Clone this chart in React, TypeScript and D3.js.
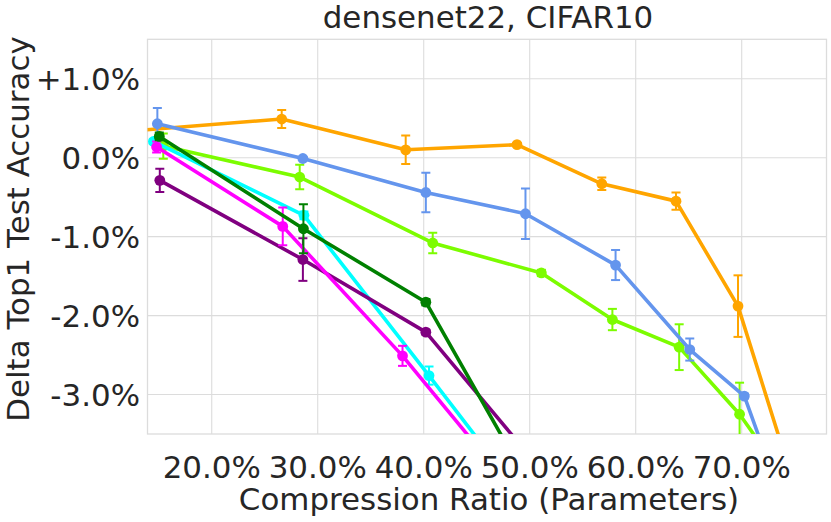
import * as React from 'react';
import * as d3 from 'd3';

// compression ratio (%) per point, delta accuracy (%) and its std
const orangeX = [13.0, 26.6, 38.3, 48.8, 56.8, 63.8, 69.65, 76.0];
const orangeY = [0.345, 0.49, 0.1, 0.165, -0.33, -0.55, -1.88, -4.6];
const orangeErr = [0, 0.114, 0.18, 0.02, 0.08, 0.11, 0.39, 0];

const blueX = [14.87, 28.6, 40.2, 49.6, 58.1, 65.1, 70.25, 75.0];
const blueY = [0.43, -0.01, -0.44, -0.71, -1.36, -2.43, -3.02, -4.79];
const blueErr = [0.2, 0.02, 0.25, 0.32, 0.19, 0.14, 0.03, 0];

const lawnX = [15.43, 28.3, 40.85, 51.1, 57.8, 64.1, 69.8, 75.0];
const lawnY = [0.147, -0.245, -1.08, -1.46, -2.05, -2.4, -3.25, -4.24];
const lawnErr = [0.16, 0.156, 0.13, 0.04, 0.135, 0.29, 0.4, 0];

const greenX = [15.05, 28.65, 40.2, 50.0];
const greenY = [0.27, -0.9, -1.83, -4.15];
const greenErr = [0.05, 0.31, 0.04, 0];

const cyanX = [14.5, 28.7, 40.5, 50.0];
const cyanY = [0.206, -0.73, -2.76, -4.42];
const cyanErr = [0.03, 0.05, 0.115, 0];

const magentaX = [14.8, 26.7, 38.0, 48.0];
const magentaY = [0.135, -0.87, -2.51, -4.14];
const magentaErr = [0.07, 0.24, 0.127, 0];

const purpleX = [15.1, 28.6, 40.2, 50.0];
const purpleY = [-0.287, -1.29, -2.21, -3.78];
const purpleErr = [0.148, 0.27, 0.03, 0];

const xTicks = [20, 30, 40, 50, 60, 70];
const xTickLabels = ['20.0%', '30.0%', '40.0%', '50.0%', '60.0%', '70.0%'];
const yTicks = [1, 0, -1, -2, -3];
const yTickLabels = ['+1.0%', '0.0%', '-1.0%', '-2.0%', '-3.0%'];

// drawing order, bottom to top
const series = [
  { color: '#ffa500', xs: orangeX, ys: orangeY, errs: orangeErr },
  { color: '#7cfc00', xs: lawnX, ys: lawnY, errs: lawnErr },
  { color: '#6495ed', xs: blueX, ys: blueY, errs: blueErr },
  { color: '#00ffff', xs: cyanX, ys: cyanY, errs: cyanErr },
  { color: '#800080', xs: purpleX, ys: purpleY, errs: purpleErr },
  { color: '#ff00ff', xs: magentaX, ys: magentaY, errs: magentaErr },
  { color: '#008000', xs: greenX, ys: greenY, errs: greenErr },
];

const width = 831;
const height = 522;
const plot = { left: 147.5, right: 826.5, top: 39.3, bottom: 434 };
const font = 'DejaVu Sans';
const fontSize = 30.9;
const textColor = '#262626';
const gridColor = '#dcdcdc';

export default function App() {
  const ref = React.useRef<SVGSVGElement>(null);

  React.useEffect(() => {
    const svg = d3.select(ref.current);
    svg.selectAll('*').remove();

    const x = d3.scaleLinear().domain([13.94, 78.0]).range([plot.left, plot.right]);
    const y = d3.scaleLinear().domain([-3.5, 1.5]).range([plot.bottom, plot.top]);

    svg
      .append('defs')
      .append('clipPath')
      .attr('id', 'plot-clip')
      .append('rect')
      .attr('x', plot.left)
      .attr('y', plot.top)
      .attr('width', plot.right - plot.left)
      .attr('height', plot.bottom - plot.top);

    // grid
    const grid = svg.append('g').attr('stroke', gridColor).attr('stroke-width', 1.1);
    grid
      .selectAll('.vgrid')
      .data(xTicks)
      .enter()
      .append('line')
      .attr('x1', d => x(d))
      .attr('x2', d => x(d))
      .attr('y1', plot.top)
      .attr('y2', plot.bottom);
    grid
      .selectAll('.hgrid')
      .data(yTicks)
      .enter()
      .append('line')
      .attr('x1', plot.left)
      .attr('x2', plot.right)
      .attr('y1', d => y(d))
      .attr('y2', d => y(d));
    svg
      .append('rect')
      .attr('x', plot.left)
      .attr('y', plot.top)
      .attr('width', plot.right - plot.left)
      .attr('height', plot.bottom - plot.top)
      .attr('fill', 'none')
      .attr('stroke', gridColor)
      .attr('stroke-width', 1.3);

    // series: line, error bars, markers
    const marks = svg.append('g').attr('clip-path', 'url(#plot-clip)');

    series.forEach(s => {
      const pts = s.xs.map((v, i) => [x(v), y(s.ys[i])] as [number, number]);
      const g = marks.append('g');
      g.append('path')
        .attr('d', d3.line()(pts))
        .attr('fill', 'none')
        .attr('stroke', s.color)
        .attr('stroke-width', 3.6)
        .attr('stroke-linejoin', 'round');

      const eb = g
        .selectAll('.err')
        .data(s.xs.map((v, i) => ({ x: v, y: s.ys[i], e: s.errs[i] })).filter(d => d.e > 0))
        .enter()
        .append('g')
        .attr('stroke', s.color)
        .attr('stroke-width', 2);
      eb.append('line')
        .attr('x1', d => x(d.x))
        .attr('x2', d => x(d.x))
        .attr('y1', d => y(d.y + d.e))
        .attr('y2', d => y(d.y - d.e));
      eb.append('line')
        .attr('x1', d => x(d.x) - 4.5)
        .attr('x2', d => x(d.x) + 4.5)
        .attr('y1', d => y(d.y + d.e))
        .attr('y2', d => y(d.y + d.e));
      eb.append('line')
        .attr('x1', d => x(d.x) - 4.5)
        .attr('x2', d => x(d.x) + 4.5)
        .attr('y1', d => y(d.y - d.e))
        .attr('y2', d => y(d.y - d.e));

      g.selectAll('circle')
        .data(pts)
        .enter()
        .append('circle')
        .attr('cx', d => d[0])
        .attr('cy', d => d[1])
        .attr('r', 5.4)
        .attr('fill', s.color);
    });

    // tick labels and titles
    const text = svg
      .append('g')
      .attr('font-family', font)
      .attr('font-size', fontSize)
      .attr('fill', textColor);
    text
      .selectAll('.xt')
      .data(xTicks)
      .enter()
      .append('text')
      .attr('x', d => x(d))
      .attr('y', 478)
      .attr('text-anchor', 'middle')
      .text((_, i) => xTickLabels[i]);
    text
      .selectAll('.yt')
      .data(yTicks)
      .enter()
      .append('text')
      .attr('x', 140)
      .attr('y', d => y(d) + 11.2)
      .attr('text-anchor', 'end')
      .text((_, i) => yTickLabels[i]);

    text
      .append('text')
      .attr('x', 489)
      .attr('y', 510)
      .attr('text-anchor', 'middle')
      .text('Compression Ratio (Parameters)');
    text
      .append('text')
      .attr('transform', 'translate(29.3,229) rotate(-90)')
      .attr('text-anchor', 'middle')
      .text('Delta Top1 Test Accuracy');
    text
      .append('text')
      .attr('x', 488)
      .attr('y', 28.3)
      .attr('text-anchor', 'middle')
      .text('densenet22, CIFAR10');
  }, []);

  return (
    <div style={{ position: 'absolute', left: 0, top: 0 }}>
      <svg ref={ref} width={width} height={height} style={{ display: 'block', background: '#fff' }} />
    </div>
  );
}
